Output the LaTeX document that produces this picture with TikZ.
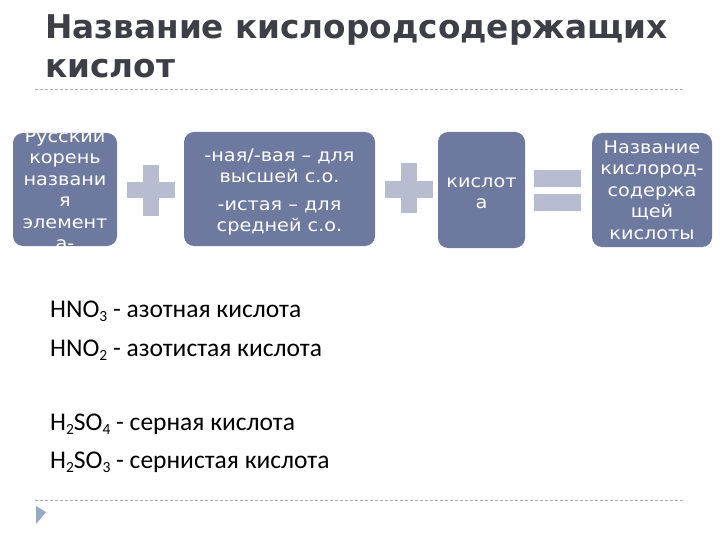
\documentclass[tikz,border=0pt]{standalone}
\usepackage{fontspec}
\setmainfont{Carlito}
\newfontfamily\titlefont{DejaVu Sans}
\newfontfamily\boxfont[FakeStretch=1.1]{DejaVu Sans}
\definecolor{boxblue}{RGB}{110,121,160}
\definecolor{opgray}{RGB}{184,188,208}
\definecolor{titlegray}{RGB}{62,62,70}
\definecolor{dashgray}{RGB}{176,176,176}
\definecolor{trianglecol}{RGB}{150,168,200}
\newcommand\chemsub[1]{\raisebox{-0.35ex}{\fontsize{15.5}{15.5}\selectfont #1}}
\begin{document}
\begin{tikzpicture}[x=1pt,y=-1pt,
  box/.style={fill=boxblue, rounded corners=10pt, inner sep=0pt, draw=none},
  boxtext/.style={text=white, font=\boxfont\fontsize{17.5}{21.5}\selectfont, align=center, inner sep=0pt},
  opbar/.style={fill=opgray, inner sep=0pt, draw=none},
  rule/.style={draw=dashgray, dash pattern=on 3pt off 2pt, line width=0.8pt},
  titletext/.style={anchor=base west, inner sep=0pt, text=titlegray, font=\titlefont\bfseries\fontsize{32.7}{39}\selectfont},
  body/.style={anchor=base west, inner sep=0pt, font=\fontsize{25.5}{30}\selectfont}]
\useasboundingbox (0,0) rectangle (720,540);

% title
\node[titletext] (title1) at (45,39) {Название кислородсодержащих};
\node[titletext] (title2) at (45,78) {кислот};

% dashed rules
\coordinate (r1a) at (35,89); \coordinate (r1b) at (685,89);
\coordinate (r2a) at (35,500); \coordinate (r2b) at (685,500);
\draw[rule] (r1a) -- (r1b);
\draw[rule] (r2a) -- (r2b);

% boxes
\node[box, minimum width=104pt, minimum height=113pt] (b1) at (65,189.5) {};
\node[box, minimum width=191pt, minimum height=114pt] (b2) at (279.5,189) {};
\node[box, minimum width=87pt, minimum height=116pt] (b3) at (481.5,190) {};
\node[box, minimum width=120pt, minimum height=114pt] (b4) at (652,190) {};

\begin{scope}
\clip[rounded corners=10pt] (b1.south west) rectangle (b1.north east);
\node[boxtext] (t1) at ([yshift=0pt]b1.center) {Русский\\корень\\названи\\я\\элемент\\а-};
\end{scope}
\node[boxtext] (t2) at ([yshift=-3pt]b2.center) {-ная/-вая – для\\высшей с.о.\\[6pt]-истая – для\\средней с.о.};
\node[boxtext] (t3) at ([yshift=-3pt]b3.center) {кислот\\а};
\node[boxtext] (t4) at (b4.center) {Название\\кислород-\\содержа\\щей\\кислоты};

% operators
\node[opbar, minimum width=48pt, minimum height=16pt] (p1h) at (151,190) {};
\node[opbar, minimum width=16pt, minimum height=51pt] (p1v) at (151,190.5) {};
\node[opbar, minimum width=48pt, minimum height=17pt] (p2h) at (409,189.5) {};
\node[opbar, minimum width=16pt, minimum height=50pt] (p2v) at (409,188) {};
\node[opbar, minimum width=47pt, minimum height=17pt] (e1) at (557.5,178.5) {};
\node[opbar, minimum width=47pt, minimum height=17pt] (e2) at (557.5,202.5) {};

% examples
\node[body] (l1) at (50,317) {HNO\chemsub{3} - азотная кислота};
\node[body] (l2) at (50,356) {HNO\chemsub{2} - азотистая кислота};
\node[body] (l3) at (50,430) {H\chemsub{2}SO\chemsub{4} - серная кислота};
\node[body] (l4) at (50,468) {H\chemsub{2}SO\chemsub{3} - сернистая кислота};

% bullet triangle
\fill[trianglecol] (36,506) -- (46,512) -- (36,524) -- cycle;
\end{tikzpicture}
\end{document}
